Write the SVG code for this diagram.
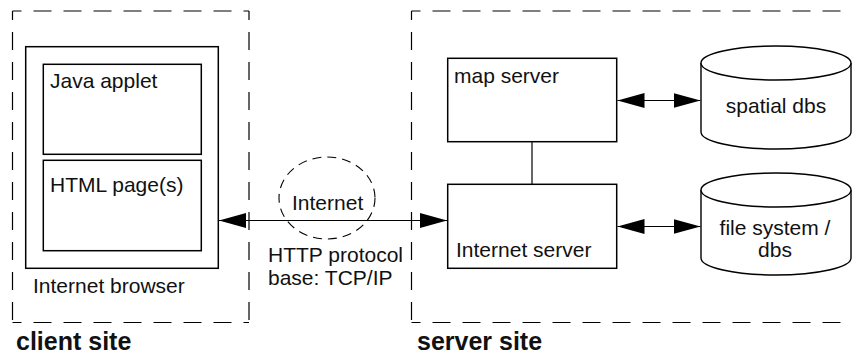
<svg xmlns="http://www.w3.org/2000/svg" width="856" height="355" viewBox="0 0 856 355">
<style>
  .t { font-family: "Liberation Sans", Arial, sans-serif; font-size: 21px; fill: #111; }
  .tb { font-family: "Liberation Sans", Arial, sans-serif; font-size: 25px; font-weight: bold; fill: #111; }
  .box { fill: none; stroke: #000; stroke-width: 1.5; }
  .dash { fill: none; stroke: #000; stroke-width: 1.2; stroke-dasharray: 18 12; stroke-dashoffset: 9; }
  .cloud { fill: none; stroke: #000; stroke-width: 1.1; stroke-dasharray: 9 6; }
  .cyl { fill: #fff; stroke: #000; stroke-width: 1.4; }
  .conn { fill: none; stroke: #000; stroke-width: 1.2; }
</style>
<defs>
  <marker id="ah" markerUnits="userSpaceOnUse" markerWidth="28" markerHeight="16" refX="27" refY="7.5" orient="auto-start-reverse" viewBox="0 0 28 16">
    <path d="M0,0 L27,7.5 L0,15 z" fill="#000"/>
  </marker>
</defs>

<g id="client-site">
  <line class="dash" x1="12.5" y1="11" x2="249" y2="11"/>
  <line class="dash" x1="12.5" y1="11" x2="12.5" y2="322.5"/>
  <line class="dash" x1="249" y1="11" x2="249" y2="322.5"/>
  <line class="dash" x1="12.5" y1="322.5" x2="249" y2="322.5"/>
  <text class="tb" x="16" y="350">client site</text>
</g>

<g id="internet-browser">
  <rect class="box" x="25.7" y="46.7" width="192.6" height="221.6"/>
  <text class="t" x="33" y="293">Internet browser</text>
</g>

<g id="java-applet">
  <rect class="box" x="43.3" y="64.3" width="158" height="90"/>
  <text class="t" x="50" y="88">Java applet</text>
</g>

<g id="html-pages">
  <rect class="box" x="43.3" y="160.3" width="158" height="90.4"/>
  <text class="t" x="50" y="192">HTML page(s)</text>
</g>

<g id="internet">
  <ellipse class="cloud" cx="327" cy="198" rx="48" ry="41"/>
  <text class="t" x="292" y="210">Internet</text>
</g>

<g id="server-site">
  <line class="dash" x1="411.5" y1="11" x2="843" y2="11"/>
  <line class="dash" x1="411.5" y1="11" x2="411.5" y2="322.5"/>
  <line class="dash" x1="411.5" y1="322.5" x2="843" y2="322.5"/>
  <text class="tb" x="417" y="350">server site</text>
</g>

<g id="map-server">
  <rect class="box" x="447.7" y="58.3" width="169" height="83.4"/>
  <text class="t" x="454" y="83">map server</text>
</g>

<g id="internet-server">
  <rect class="box" x="447.7" y="184.3" width="169" height="84"/>
  <text class="t" x="456" y="257">Internet server</text>
</g>

<g id="spatial-dbs">
  <path class="cyl" d="M701,63 L701,132 A75,17 0 0 0 851,132 L851,63 A75,17 0 0 0 701,63 Z"/>
  <path class="cyl" fill="none" d="M701,63 A75,17 0 0 0 851,63"/>
  <text class="t" x="776" y="113" text-anchor="middle">spatial dbs</text>
</g>

<g id="file-system">
  <path class="cyl" d="M701,190 L701,258 A75,17 0 0 0 851,258 L851,190 A75,17 0 0 0 701,190 Z"/>
  <path class="cyl" fill="none" d="M701,190 A75,17 0 0 0 851,190"/>
  <text class="t" x="775" y="235" text-anchor="middle">file system /</text>
  <text class="t" x="775" y="257" text-anchor="middle">dbs</text>
</g>

<g id="connectors">
  <line class="conn" x1="219" y1="220.5" x2="447" y2="220.5" marker-start="url(#ah)" marker-end="url(#ah)"/>
  <line class="conn" x1="617.5" y1="100.5" x2="700.5" y2="100.5" marker-start="url(#ah)" marker-end="url(#ah)"/>
  <line class="conn" x1="617.5" y1="226.5" x2="700.5" y2="226.5" marker-start="url(#ah)" marker-end="url(#ah)"/>
  <line class="conn" x1="532" y1="141.7" x2="532" y2="184.3" stroke-width="2"/>
</g>

<g id="protocol-label">
  <text class="t" x="268" y="262">HTTP protocol</text>
  <text class="t" x="268" y="285">base: TCP/IP</text>
</g>
</svg>
